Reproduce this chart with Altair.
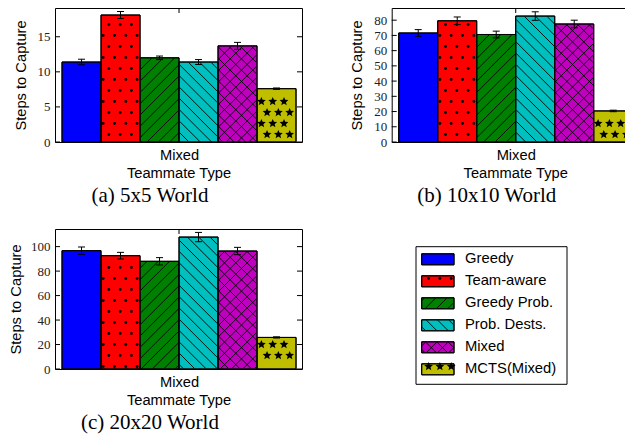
import math
import altair as alt
import pandas as pd

# ---------------- data ----------------
methods = ["Greedy", "Team-aware", "Greedy Prob.", "Prob. Dests.", "Mixed", "MCTS(Mixed)"]
steps_5x5 = [11.4, 18.1, 12.0, 11.4, 13.7, 7.6]
err_5x5 = [0.4, 0.5, 0.25, 0.35, 0.5, 0.1]
steps_10x10 = [71.6, 79.6, 70.6, 82.7, 77.5, 20.4]
err_10x10 = [2.2, 2.5, 2.2, 2.8, 2.5, 0.5]
steps_20x20 = [96.7, 92.6, 88.0, 107.8, 96.4, 25.8]
err_20x20 = [3.0, 2.7, 3.0, 3.8, 3.0, 0.5]
ticks_5x5 = [0, 5, 10, 15]
ticks_10x10 = [0, 10, 20, 30, 40, 50, 60, 70, 80]
ticks_20x20 = [0, 20, 40, 60, 80, 100]
captions = ["(a) 5x5 World", "(b) 10x10 World", "(c) 20x20 World"]
x_label = "Mixed"

# ---------------- styles ----------------
colors = ["#0000ff", "#ff0000", "#008000", "#00bfbf", "#bf00bf", "#bfbf00"]
hatches = ["", ".", "/", "\\", "x", "*"]
SANS = "Liberation Sans"
SERIF = "Liberation Serif"

W = 247
BAR_PX = 39.0
XMIN = -0.18
XMAX = XMIN + W / BAR_PX
H1, H2 = 134, 140
HS = 11.3   # hatch spacing (px)
VS = 11.0   # row spacing for dots / stars (px)


def star_path(n=5, r_in=0.45):
    pts = []
    for k in range(2 * n):
        r = 1.0 if k % 2 == 0 else r_in
        a = math.radians(-90 + k * 180.0 / n)
        pts.append(f"{r * math.cos(a):.3f},{r * math.sin(a):.3f}")
    return "M" + "L".join(pts) + "Z"


STAR = star_path()


def pattern(kind, x0, x1, y0, y1, margin=2.5):
    """Pattern elements inside a pixel rectangle (y downwards)."""
    segs, dots, stars = [], [], []
    if kind in ("/", "x"):
        for k in range(int(math.floor((x0 + y0) / HS)) - 1, int(math.ceil((x1 + y1) / HS)) + 2):
            c = k * HS
            lo, hi = max(x0, c - y1), min(x1, c - y0)
            if hi - lo > 0.4:
                segs.append((lo, c - lo, hi, c - hi))
    if kind in ("\\", "x"):
        for k in range(int(math.floor((y0 - x1) / HS)) - 1, int(math.ceil((y1 - x0) / HS)) + 2):
            c = k * HS
            lo, hi = max(x0, y0 - c), min(x1, y1 - c)
            if hi - lo > 0.4:
                segs.append((lo, lo + c, hi, hi + c))
    if kind in (".", "*"):
        m = 1.5 if kind == "." else margin
        for j in range(int(y0 // VS) - 1, int(y1 // VS) + 2):
            py = j * VS + VS / 2
            off = (j % 2) * HS / 2
            for i in range(int(x0 // HS) - 2, int(x1 // HS) + 2):
                px = i * HS + off + 3
                if x0 + m <= px <= x1 - m and y0 + m <= py <= y1 - m:
                    (dots if kind == "." else stars).append((px, py))
    return segs, dots, stars


def deco_layers(segs, dots, stars, conv, X, Y):
    layers = []
    if segs:
        rows = []
        for (a, b, c, d) in segs:
            xa, ya = conv(a, b)
            xb, yb = conv(c, d)
            rows.append({"x": xa, "y": ya, "x2": xb, "y2": yb})
        layers.append(
            alt.Chart(pd.DataFrame(rows)).mark_rule(color="black", strokeWidth=0.9).encode(
                x=X("x"), x2="x2:Q", y=Y("y"), y2="y2:Q"))
    if dots:
        rows = [dict(zip(("x", "y"), conv(a, b))) for a, b in dots]
        layers.append(
            alt.Chart(pd.DataFrame(rows)).mark_point(
                shape="circle", filled=True, color="black", size=8, opacity=1).encode(
                x=X("x"), y=Y("y")))
    if stars:
        rows = [dict(zip(("x", "y"), conv(a, b))) for a, b in stars]
        layers.append(
            alt.Chart(pd.DataFrame(rows)).mark_point(
                shape=STAR, filled=True, color="black", size=85, opacity=1).encode(
                x=X("x"), y=Y("y")))
    return layers


def panel(vals, errs, ymax, yticks, H, caption, tpad):
    xs = alt.Scale(domain=[XMIN, XMAX], nice=False, zero=False)
    ys = alt.Scale(domain=[0, ymax], nice=False, zero=False)
    xaxis = alt.Axis(
        values=[3], labelExpr=f"'{x_label}'", ticks=False, domain=False, grid=False,
        labelFont=SANS, labelFontSize=14.7, labelColor="black", labelPadding=5, labelAngle=0,
        title="Teammate Type", titleFont=SANS, titleFontSize=14.7, titleFontWeight="normal",
        titleColor="black", titlePadding=4)
    yaxis = alt.Axis(
        values=yticks, ticks=False, domain=False, grid=False,
        labelFont=SERIF, labelFontSize=13, labelColor="#222", labelPadding=5,
        title="Steps to Capture", titleFont=SANS, titleFontSize=14.7, titleFontWeight="normal",
        titleColor="black", titlePadding=tpad)

    def X(f):
        return alt.X(f"{f}:Q", scale=xs, axis=xaxis, title="Teammate Type")

    def Y(f):
        return alt.Y(f"{f}:Q", scale=ys, axis=yaxis, title="Steps to Capture")

    def conv(px, py):
        return XMIN + px / W * (XMAX - XMIN), (H - py) / H * ymax

    df = pd.DataFrame({
        "method": methods,
        "x0": list(range(6)),
        "x1": [i + 1 for i in range(6)],
        "xm": [i + 0.5 for i in range(6)],
        "v": vals,
        "base": [0.0] * 6,
        "lo": [v - e for v, e in zip(vals, errs)],
        "hi": [v + e for v, e in zip(vals, errs)],
    })
    cap = 3.5 / BAR_PX
    df["cl"] = df["xm"] - cap
    df["cr"] = df["xm"] + cap

    color = alt.Color("method:N", scale=alt.Scale(domain=methods, range=colors), legend=None)
    bars = alt.Chart(df).mark_rect(stroke="black", strokeWidth=1).encode(
        x=X("x0"), x2="x1:Q", y=Y("v"), y2="base:Q", color=color)

    layers = [bars]
    segs_all, dots_all, stars_all = [], [], []
    for i, (v, h) in enumerate(zip(vals, hatches)):
        if not h:
            continue
        x0 = (i - XMIN) * BAR_PX + 0.5
        x1 = (i + 1 - XMIN) * BAR_PX - 0.5
        y0 = H - v / ymax * H + 0.5
        y1 = H - 0.5
        s, d, st = pattern(h, x0, x1, y0, y1)
        segs_all += s
        dots_all += d
        stars_all += st
    layers += deco_layers(segs_all, dots_all, stars_all, conv, X, Y)

    outline = alt.Chart(df).mark_rect(stroke="black", strokeWidth=1, fillOpacity=0).encode(
        x=X("x0"), x2="x1:Q", y=Y("v"), y2="base:Q")
    ebar = alt.Chart(df).mark_rule(color="black", strokeWidth=1).encode(
        x=X("xm"), y=Y("lo"), y2="hi:Q")
    caps_df = pd.concat([
        df[["cl", "cr", "lo"]].rename(columns={"lo": "yy"}),
        df[["cl", "cr", "hi"]].rename(columns={"hi": "yy"})])
    caps = alt.Chart(caps_df).mark_rule(color="black", strokeWidth=1).encode(
        x=X("cl"), x2="cr:Q", y=Y("yy"))

    tl = 5 / BAR_PX
    tick_df = pd.DataFrame(
        [{"a": XMIN, "b": XMIN + tl, "t": t} for t in yticks] +
        [{"a": XMAX - tl, "b": XMAX, "t": t} for t in yticks])
    yticks_l = alt.Chart(tick_df).mark_rule(color="black", strokeWidth=1).encode(
        x=X("a"), x2="b:Q", y=Y("t"))
    top_df = pd.DataFrame({"x": [3], "ya": [ymax], "yb": [ymax - 5 / H * ymax]})
    top_tick = alt.Chart(top_df).mark_rule(color="black", strokeWidth=1).encode(
        x=X("x"), y=Y("ya"), y2="yb:Q")

    layers += [outline, ebar, caps, yticks_l, top_tick]
    return alt.layer(*layers).properties(
        width=W, height=H,
        title=alt.TitleParams(caption, orient="bottom", anchor="middle", dx=-28.5,
                              font=SERIF, fontSize=21, fontWeight="normal", color="black",
                              offset=5),
    )


def legend_chart():
    LX = 24.3
    LW, LH = 175.3, 156
    xs = alt.Scale(domain=[0, LW], nice=False, zero=False)
    ys = alt.Scale(domain=[0, LH], nice=False, zero=False, reverse=True)

    def X(f):
        return alt.X(f"{f}:Q", scale=xs, axis=None)

    def Y(f):
        return alt.Y(f"{f}:Q", scale=ys, axis=None)

    def conv(px, py):
        return px, py

    box = alt.Chart(pd.DataFrame({"a": [LX], "b": [LW], "c": [17.7], "d": [155.3]})).mark_rect(
        fill="white", stroke="black", strokeWidth=1).encode(
        x=X("a"), x2="b:Q", y=Y("c"), y2="d:Q")
    rows = []
    for k, m in enumerate(methods):
        cy = 30.3 + 22 * k
        rows.append({"method": m, "px0": LX + 5.7, "px1": LX + 38.0, "py0": cy - 5.5,
                     "py1": cy + 5.5, "tx": LX + 49.0, "ty": cy})
    ldf = pd.DataFrame(rows)
    color = alt.Color("method:N", scale=alt.Scale(domain=methods, range=colors), legend=None)
    patches = alt.Chart(ldf).mark_rect(stroke="black", strokeWidth=1).encode(
        x=X("px0"), x2="px1:Q", y=Y("py0"), y2="py1:Q", color=color)
    segs_all, dots_all, stars_all = [], [], []
    for r, h in zip(rows, hatches):
        if not h:
            continue
        s, d, st = pattern(h, r["px0"] + 0.5, r["px1"] - 0.5, r["py0"] + 0.5, r["py1"] - 0.5,
                           margin=1.5)
        segs_all += s
        dots_all += d
        stars_all += st
    deco = deco_layers(segs_all, dots_all, stars_all, conv, X, Y)
    outline = alt.Chart(ldf).mark_rect(stroke="black", strokeWidth=1, fillOpacity=0).encode(
        x=X("px0"), x2="px1:Q", y=Y("py0"), y2="py1:Q")
    labels = alt.Chart(ldf).mark_text(
        align="left", baseline="middle", font=SANS, fontSize=14.8, color="black").encode(
        x=X("tx"), y=Y("ty"), text="method:N")
    return alt.layer(box, patches, *deco, outline, labels).properties(
        width=LW, height=LH, view=alt.ViewBackground(strokeOpacity=0))


pa = panel(steps_5x5, err_5x5, 19.1, ticks_5x5, H1, captions[0], 9)
pb = panel(steps_10x10, err_10x10, 88.0, ticks_10x10, H1, captions[1], 9)
pc = panel(steps_20x20, err_20x20, 114.4, ticks_20x20, H2, captions[2], 7.5)
leg = legend_chart()

chart = alt.concat(pa, pb, pc, leg, columns=2, spacing={"row": 87, "column": 89.7},
                   bounds="flush").properties(
    autosize=alt.AutoSizeParams(type="none"),
    padding={"left": 47, "top": 0, "right": 570, "bottom": 428},
    background="white",
).configure_view(stroke="black", strokeWidth=1)

chart.save("out.html", embed_options={"renderer": "svg", "actions": False})
